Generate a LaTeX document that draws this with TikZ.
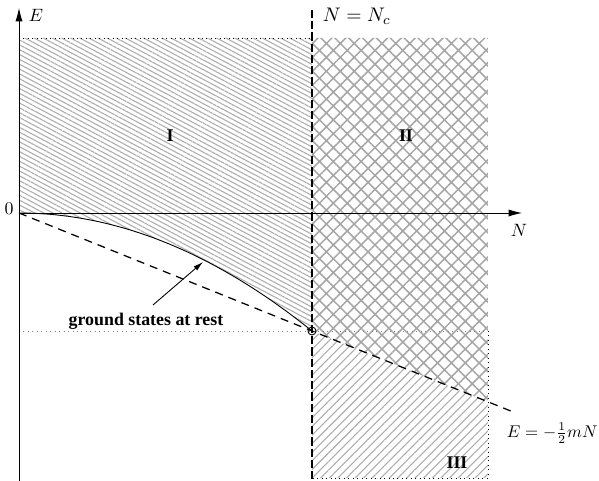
\documentclass[tikz,border=0pt]{standalone}
\usepackage{fontspec}
\newfontfamily\timesfont{Liberation Serif}
\usetikzlibrary{patterns.meta,arrows.meta}

\begin{document}
\begin{tikzpicture}[x=0.56pt,y=0.56pt,>={Latex[length=7.5pt,width=4pt]}]
% Limites
\def\Nc{293}
\def\Ec{-118}
\def\Etop{175}
\def\Nmax{469}
\def\Ebot{-265}

\useasboundingbox (-19,-268) rectangle (580,213);

% Zones hachurees
\fill[pattern={Lines[angle=-28,distance=2.4pt,line width=0.6pt]},pattern color=gray!65]
  (0,\Etop) -- (\Nc,\Etop) -- (\Nc,\Ec) .. controls (195.3,-39.3) and (97.7,0) .. (0,0) -- cycle;
\fill[pattern={Hatch[angle=45,distance=5.5pt,line width=0.85pt]},pattern color=gray!70]
  (\Nc,\Etop) -- (\Nmax,\Etop) -- (\Nmax,-188.9) -- (\Nc,\Ec) -- cycle;
\fill[pattern={Lines[angle=45,distance=3.4pt,line width=0.6pt]},pattern color=gray!65]
  (\Nc,\Ec) -- (\Nmax,-188.9) -- (\Nmax,\Ebot) -- (\Nc,\Ebot) -- cycle;

% Lignes pointillees
\draw[dotted,line width=0.5pt] (0,\Etop) -- (\Nc,\Etop);
\draw[dotted,gray,line width=0.5pt] (0,\Ec) -- (\Nmax,\Ec);
\draw[dotted,line width=0.5pt] (\Nmax,\Ec) -- (\Nmax,\Ebot) -- (\Nc,\Ebot);

% Axes
\draw[->,line width=0.45pt] (0,-268) -- (0,205);
\draw[->,line width=0.45pt] (0,0) -- (503,0);
\node (lblE) at (17,198) {$E$};
\node (lblN) at (500,-17) {$N$};
\node (lblO) at (-10,4) {$0$};

% Droite N = Nc
\draw[line width=0.75pt,dash pattern=on 4.5pt off 1.8pt] (\Nc,203) -- (\Nc,-268);
\node[anchor=west,scale=1.1] (lblNc) at (\Nc+4,197) {$N=N_c$};

% Droite E = -mN/2
\draw[line width=0.7pt,dash pattern=on 4.5pt off 3.4pt] (0,0) -- (493,-198.5);
\node[anchor=west,scale=0.95] (lblLine) at (482,-220) {$E=-\frac{1}{2}mN$};

% Etats fondamentaux
\draw[line width=0.5pt] (0,0) .. controls (97.7,0) and (195.3,-39.3) .. (\Nc,\Ec);
\draw[line width=0.5pt] (\Nc,\Ec) circle (4);
\node (lblGS) at (127,-108) {\timesfont\bfseries ground states at rest};
\coordinate (gsfoot) at (134,-92);
\coordinate (gstip) at (184,-49);
\draw[->,>={Latex[length=5.5pt,width=3pt]},line width=0.5pt] (gsfoot) -- (gstip);

% Regions
\node (regI) at (151,77) {\timesfont\bfseries I};
\node (regII) at (387,77) {\timesfont\bfseries II};
\node (regIII) at (438,-250) {\timesfont\bfseries III};

\end{tikzpicture}
\end{document}
